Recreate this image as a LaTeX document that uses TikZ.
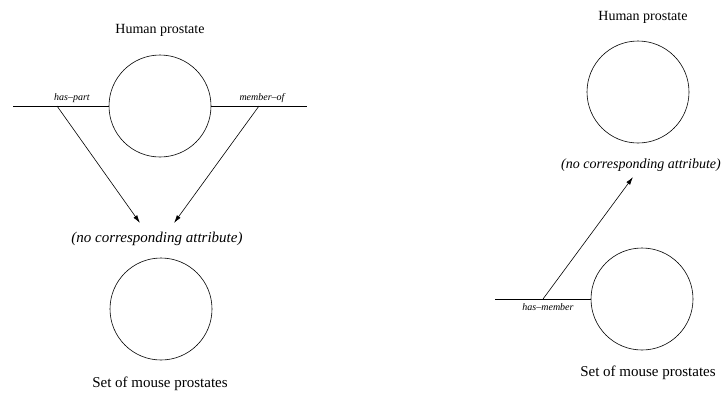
\documentclass[tikz,border=0pt]{standalone}
\usepackage{fontspec}
\setmainfont{Liberation Serif}
\usetikzlibrary{arrows.meta}

\begin{document}
\begin{tikzpicture}[x=1pt, y=-1pt,
  every node/.style={font=\fontsize{14}{16}\selectfont},
  entity/.style={draw, circle, minimum size=102pt, inner sep=0pt, line width=0.6pt},
  relation/.style={font=\fontsize{10}{12}\selectfont\itshape},
  noattr/.style={font=\fontsize{15}{17}\selectfont\itshape},
  setlabel/.style={font=\fontsize{15}{17}\selectfont},
  link/.style={line width=0.6pt},
  maps/.style={link, -{Latex[length=8pt, width=4.5pt]}}]

  \useasboundingbox (0,0) rectangle (727,394);

  %% Left: has-part and member-of map to nothing
  \node (human) at (160,30) {Human prostate};
  \node[entity] (hcirc) at (160,106) {};
  \coordinate (lend) at (13,106);
  \coordinate (rend) at (307,106);
  \coordinate (haspart) at (57,106);
  \coordinate (memberof) at (259,106);
  \draw[link] (lend) -- (hcirc.west);
  \draw[link] (hcirc.east) -- (rend);
  \node[relation] at (72,98) {has--part};
  \node[relation] at (262,98) {member--of};

  \node[noattr] (none) at (157,239) {(no corresponding attribute)};
  \coordinate (tipa) at (140,223);
  \coordinate (tipb) at (174,223);
  \draw[maps] (haspart) -- (tipa);
  \draw[maps] (memberof) -- (tipb);

  \node[entity] (mcirc) at (161,309) {};
  \node[setlabel] (mouse) at (160,384) {Set of mouse prostates};

  %% Right: has-member maps to nothing
  \node (human2) at (643,17) {Human prostate};
  \node[entity] (hcirc2) at (638,92) {};
  \node[noattr, font=\fontsize{14}{16}\selectfont\itshape] (none2) at (641,165) {(no corresponding attribute)};

  \node[entity] (mcirc2) at (642,299) {};
  \coordinate (lend2) at (495,299);
  \coordinate (hasmember) at (543,299);
  \draw[link] (lend2) -- (mcirc2.west);
  \node[relation] at (548,307) {has--member};
  \coordinate (tipc) at (633,177);
  \draw[maps] (hasmember) -- (tipc);
  \node[setlabel] (mouse2) at (648,373) {Set of mouse prostates};

\end{tikzpicture}
\end{document}
